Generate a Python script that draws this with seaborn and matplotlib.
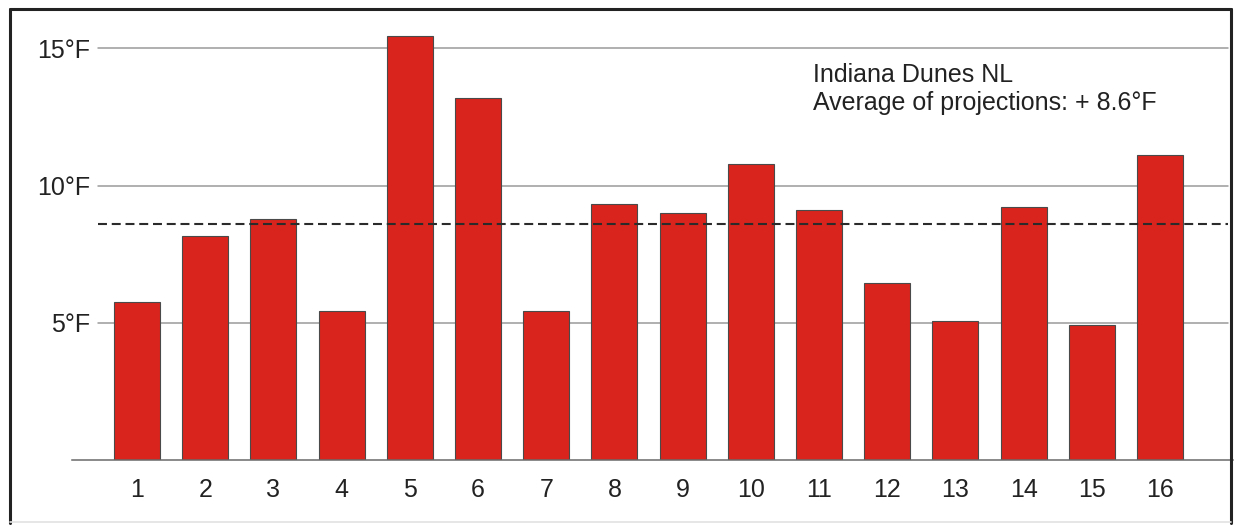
import matplotlib
matplotlib.use("Agg")
import matplotlib.pyplot as plt
import seaborn as sns
import pandas as pd
from matplotlib.lines import Line2D

# projection number and warming (deg F)
projections = [str(i) for i in range(1, 17)]
warming = [5.77, 8.17, 8.79, 5.43, 15.45, 13.2, 5.44, 9.34,
           9.01, 10.79, 9.12, 6.46, 5.05, 9.22, 4.92, 11.1]
average = 8.6
ytick_vals = [5, 10, 15]
ytick_labels = ["5°F", "10°F", "15°F"]
note_lines = ["Indiana Dunes NL", "Average of projections: + 8.6°F"]


def main():
    sns.set_style("white")
    plt.rcParams["font.family"] = ["Liberation Sans", "DejaVu Sans"]

    df = pd.DataFrame({"projection": projections, "warming": warming})

    fig = plt.figure(figsize=(12.35, 5.27), dpi=100)
    ax = fig.add_axes([72 / 1235, 1 - 459.9 / 527, 1161 / 1235, 449.9 / 527])

    # light grid lines first, so bars sit on top
    for v in ytick_vals:
        ax.axhline(v, xmin=0.0224, xmax=0.996, color="#9a9a9a", lw=1.1, zorder=0)

    sns.barplot(data=df, x="projection", y="warming", ax=ax, color="#d8241c",
                width=0.675, edgecolor="#4a4a4a", linewidth=0.8, saturation=1,
                zorder=2)

    ax.axhline(average, xmin=0.0224, xmax=0.996, color="#2b2b2b", lw=1.5,
               dashes=(4.3, 2.3), zorder=3)

    ax.set_xlim(-0.953, 16.07)
    ax.set_ylim(0, 16.4)
    ax.set_yticks(ytick_vals)
    ax.set_yticklabels(ytick_labels)
    ax.set_xlabel("")
    ax.set_ylabel("")
    ax.tick_params(axis="y", length=0, pad=-13, labelsize=18, colors="#222222")
    ax.tick_params(axis="x", length=0, pad=13, labelsize=18, colors="#222222")

    for s in ["top", "right", "left"]:
        ax.spines[s].set_visible(False)
    ax.spines["bottom"].set_color("#6a6a6a")
    ax.spines["bottom"].set_linewidth(1.1)
    ax.patch.set_alpha(0)

    # baselines at y=81.7 and y=110 px
    ax.text(9.91, (459.9 - 81.7) / 27.43, note_lines[0], fontsize=18,
            color="#222222", va="baseline")
    ax.text(9.91, (459.9 - 110) / 27.43, note_lines[1], fontsize=18,
            color="#222222", va="baseline")

    # outer frame round the picture
    W, H = 1235, 527
    fx = lambda p: p / W
    fy = lambda p: 1 - p / H
    frame = dict(color="#222222", lw=2.2, transform=fig.transFigure)
    fig.add_artist(Line2D([fx(10), fx(10)], [fy(9), fy(523)], **frame))
    fig.add_artist(Line2D([fx(10), fx(1231)], [fy(9), fy(9)], **frame))
    fig.add_artist(Line2D([fx(1231), fx(1231)], [fy(9), fy(523)], **frame))
    fig.add_artist(Line2D([fx(10), fx(1231)], [fy(522), fy(522)], color="#e2e2e2",
                          lw=1.2, transform=fig.transFigure))

    plt.savefig("out.png", dpi=100)


if __name__ == "__main__":
    main()
